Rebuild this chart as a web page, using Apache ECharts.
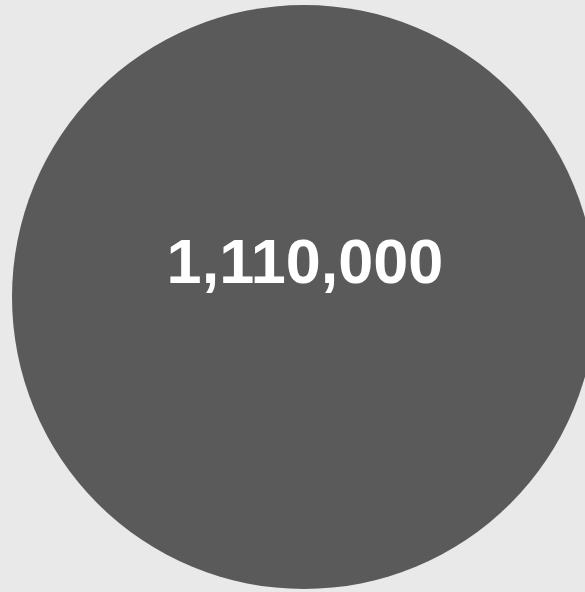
<!DOCTYPE html>
<html>
<head>
<meta charset="utf-8">
<script src="https://cdn.jsdelivr.net/npm/echarts@6/dist/echarts.min.js"></script>
<style>
  html, body { margin: 0; padding: 0; background: #e9e9e9; }
  #chart { width: 585px; height: 592px; }
</style>
</head>
<body>
<div id="chart"></div>
<script>
// one bubble, one value
const names = ['total'];
const values = [1110000];

const chart = echarts.init(document.getElementById('chart'));
chart.setOption({
  backgroundColor: '#e9e9e9',
  animation: false,
  series: [{
    type: 'pie',
    center: [304, 297],
    radius: [0, 292],
    silent: true,
    itemStyle: { color: '#5a5a5a', borderWidth: 0 },
    label: {
      show: true,
      position: 'center',
      color: '#ffffff',
      fontFamily: "'Liberation Sans', Arial, sans-serif",
      fontWeight: 'bold',
      fontSize: 63,
      offset: [1, -31],
      formatter: p => p.value.toLocaleString('en-US')
    },
    labelLine: { show: false },
    data: names.map((n, i) => ({ name: n, value: values[i] }))
  }]
});
</script>
</body>
</html>
